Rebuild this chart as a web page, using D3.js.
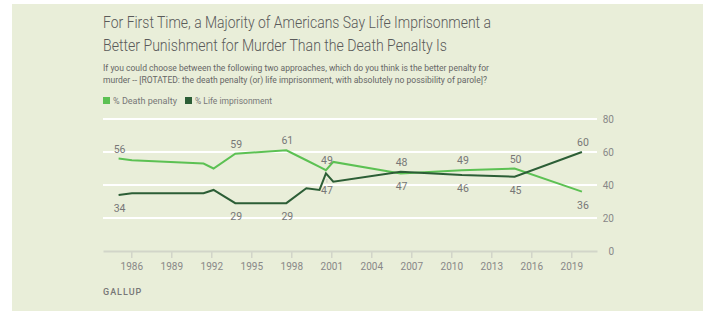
<!DOCTYPE html>
<html>
<head>
<meta charset="utf-8">
<script src="https://cdn.jsdelivr.net/npm/d3@7"></script>
<style>
  body { margin: 0; background: #fff; }
  svg { display: block; font-family: Roboto, "Noto Sans", sans-serif; }
</style>
</head>
<body>
<div id="chart"></div>
<script>
// survey dates (decimal years) and results
var years = [1985.05, 1986.05, 1991.42, 1992.17, 1993.8, 1997.63, 1999.13, 2000.12, 2000.6, 2001.15, 2006.2, 2010.8, 2014.75, 2019.8];
var deathPenalty = [56, 55, 53, 50, 59, 61, 55, 51, 49, 54, 47, 49, 50, 36];
var lifeImprisonment = [34, 35, 35, 37, 29, 29, 38, 37, 47, 42, 48, 46, 45, 60];
// points that carry a value label
var labelled = [0, 4, 5, 8, 10, 11, 12, 13];
var xTicks = [1986, 1989, 1992, 1995, 1998, 2001, 2004, 2007, 2010, 2013, 2016, 2019];
var yTicks = [0, 20, 40, 60, 80];

var titleLines = ["For First Time, a Majority of Americans Say Life Imprisonment a",
                  "Better Punishment for Murder Than the Death Penalty Is"];
var subLines = ["If you could choose between the following two approaches, which do you think is the better penalty for",
                "murder -- [ROTATED: the death penalty (or) life imprisonment, with absolutely no possibility of parole]?"];

var lightGreen = "#5cc153",
    darkGreen = "#2c5e36";

var W = 710, H = 311;
var svg = d3.select("#chart").append("svg")
    .attr("width", W)
    .attr("height", H);

// background panel
svg.append("rect")
    .attr("x", 12).attr("y", 4)
    .attr("width", 691).attr("height", 307)
    .attr("fill", "#e9eed9");

// title + subtitle
svg.selectAll(".title")
    .data(titleLines)
    .enter().append("text")
    .attr("class", "title")
    .attr("x", 103)
    .attr("y", function(d, i) { return 28 + i * 23; })
    .attr("textLength", function(d, i) { return i == 0 ? 388 : 344; })
    .attr("lengthAdjust", "spacingAndGlyphs")
    .style("font-size", "17px")
    .style("font-weight", "300")
    .style("fill", "#5a5a5a")
    .text(function(d) { return d; });

svg.selectAll(".sub")
    .data(subLines)
    .enter().append("text")
    .attr("class", "sub")
    .attr("x", 103)
    .attr("y", function(d, i) { return 70.5 + i * 12.5; })
    .attr("textLength", function(d, i) { return i == 0 ? 386 : 384; })
    .attr("lengthAdjust", "spacingAndGlyphs")
    .style("font-size", "9px")
    .style("fill", "#666")
    .text(function(d) { return d; });

// legend
var legend = [
    {name: "% Death penalty", color: lightGreen, x: 103, len: 64},
    {name: "% Life imprisonment", color: darkGreen, x: 185, len: 77}
];
var lg = svg.selectAll(".legend")
    .data(legend)
    .enter().append("g")
    .attr("class", "legend")
    .attr("transform", function(d) { return "translate(" + d.x + ",97)"; });
lg.append("rect")
    .attr("width", 7).attr("height", 7)
    .attr("fill", function(d) { return d.color; });
lg.append("text")
    .attr("x", 10).attr("y", 7)
    .attr("textLength", function(d) { return d.len; })
    .attr("lengthAdjust", "spacingAndGlyphs")
    .style("font-size", "9px")
    .style("fill", "#777")
    .text(function(d) { return d.name; });

// scales
var x = d3.scaleLinear().domain([1983.88, 2020.93]).range([103, 597]);
var y = d3.scaleLinear().domain([0, 80]).range([251, 119]);

// gridlines
svg.selectAll(".grid")
    .data(yTicks.filter(function(d) { return d > 0; }))
    .enter().append("line")
    .attr("class", "grid")
    .attr("x1", 103).attr("x2", 597)
    .attr("y1", function(d) { return y(d); })
    .attr("y2", function(d) { return y(d); })
    .style("stroke", "#fff")
    .style("stroke-width", 2);

// y labels on the right
svg.selectAll(".ylab")
    .data(yTicks)
    .enter().append("text")
    .attr("class", "ylab")
    .attr("x", 614)
    .attr("y", function(d) { return y(d) + 3.5; })
    .style("text-anchor", "end")
    .style("font-size", "10px")
    .style("fill", "#888")
    .text(function(d) { return d; });

// x axis
var xAxis = d3.axisBottom(x)
    .tickValues(xTicks)
    .tickFormat(d3.format("d"))
    .tickSizeInner(7)
    .tickSizeOuter(0)
    .tickPadding(5);

var gx = svg.append("g")
    .attr("class", "x axis")
    .attr("transform", "translate(0," + y(0) + ")")
    .call(xAxis);
gx.select(".domain").style("stroke", "#d2d5c9").style("stroke-width", 2);
gx.selectAll(".tick line").style("stroke", "#d2d5c9").style("stroke-width", 1.5);
gx.selectAll(".tick text")
    .style("font-family", "Roboto, sans-serif")
    .style("font-size", "10px")
    .style("fill", "#888");

// lines
var series = [
    {values: deathPenalty, other: lifeImprisonment, color: lightGreen},
    {values: lifeImprisonment, other: deathPenalty, color: darkGreen}
];

var line = d3.line()
    .x(function(d, i) { return x(years[i]); })
    .y(function(d) { return y(d); });

svg.selectAll(".line")
    .data(series)
    .enter().append("path")
    .attr("class", "line")
    .attr("d", function(d) { return line(d.values); })
    .style("fill", "none")
    .style("stroke", function(d) { return d.color; })
    .style("stroke-width", 2);

// value labels: the higher series goes above, the lower one below
series.forEach(function(s) {
    labelled.forEach(function(i) {
        var v = s.values[i];
        var above = v >= s.other[i];
        var yy = y(v) + (above ? -6 : 17);
        if (!above && i == 8) {
            // small leader for the crowded 2000 point
            svg.append("line")
                .attr("x1", x(years[i]) + 1).attr("x2", x(years[i]) + 1)
                .attr("y1", y(v) + 6).attr("y2", y(v) + 10)
                .style("stroke", "#aaa")
                .style("stroke-width", 1)
                .style("stroke-dasharray", "1,1");
            yy += 4;
        }
        svg.append("text")
            .attr("x", x(years[i]) + 1)
            .attr("y", yy)
            .style("text-anchor", "middle")
            .style("font-size", "10.5px")
            .style("fill", "#777")
            .text(v);
    });
});

// source
svg.append("text")
    .attr("x", 103)
    .attr("y", 295)
    .style("font-size", "9px")
    .style("font-weight", "500")
    .style("letter-spacing", "1px")
    .style("fill", "#777")
    .text("GALLUP");
</script>
</body>
</html>
